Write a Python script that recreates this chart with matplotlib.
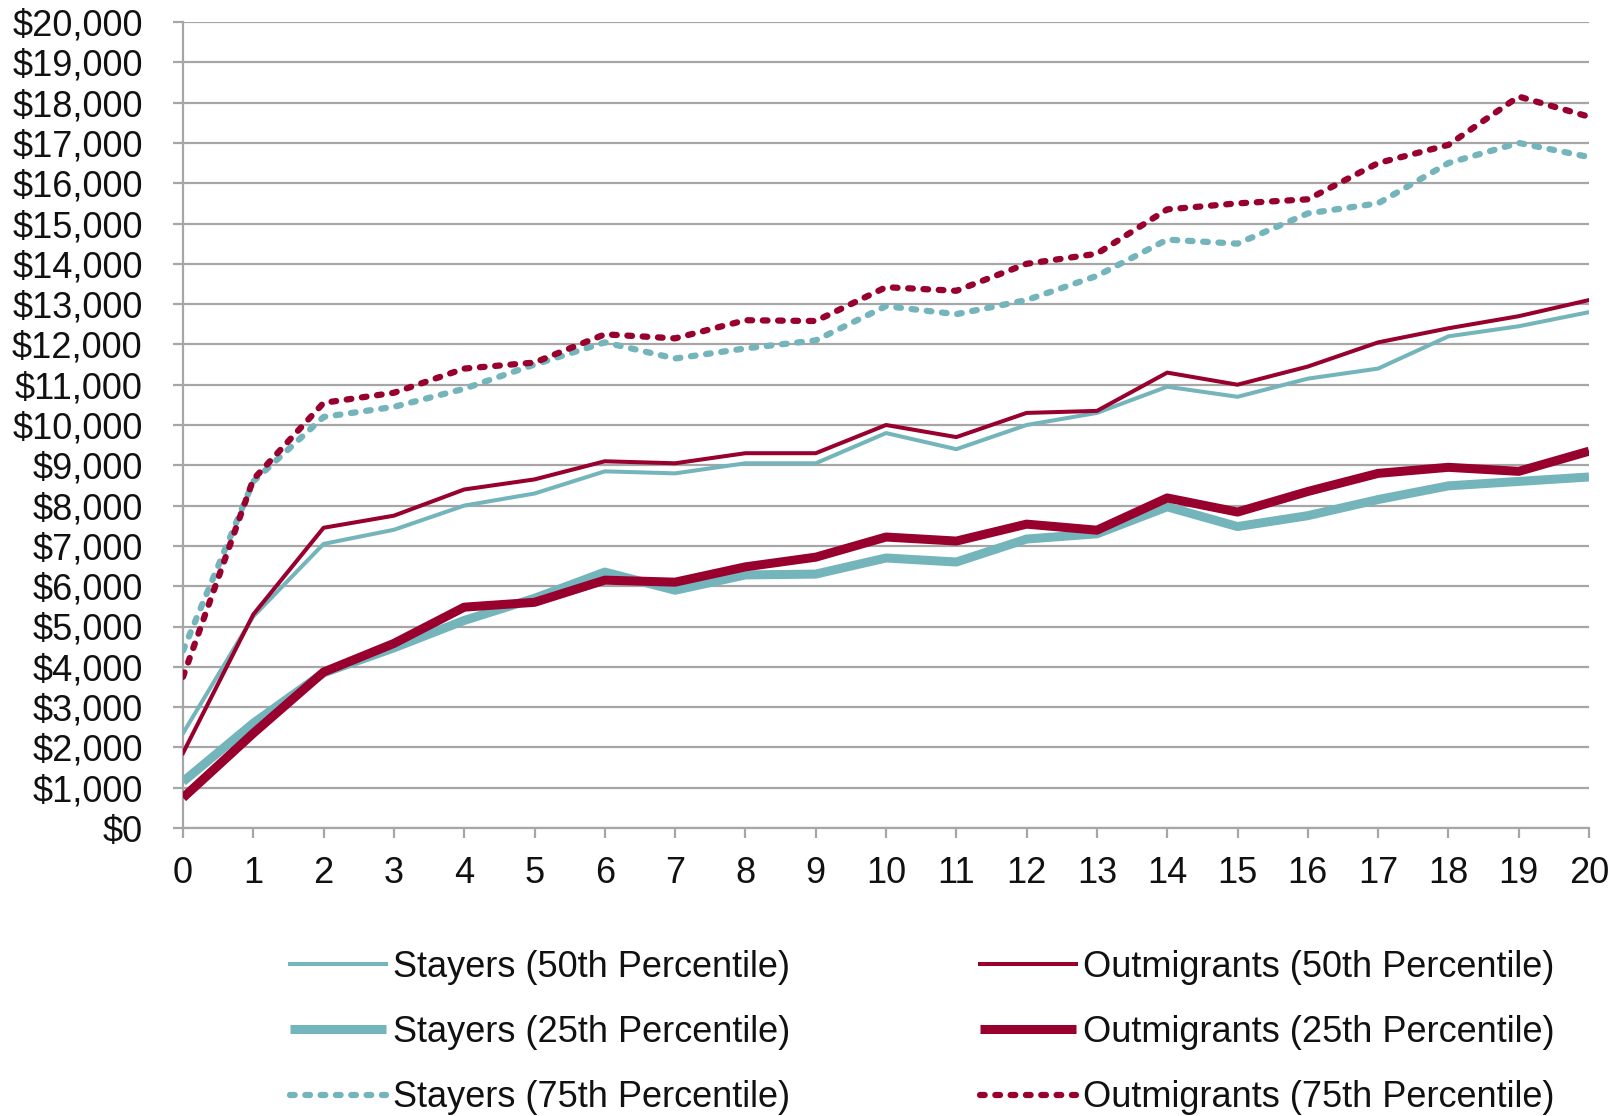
import matplotlib
matplotlib.use("Agg")
import matplotlib.pyplot as plt
from matplotlib.ticker import FuncFormatter, MultipleLocator

plt.rcParams['font.family'] = ['Liberation Sans', 'DejaVu Sans']

years = list(range(0, 21))

stayers_50 = [2350, 5250, 7050, 7400, 8000, 8300, 8850, 8800, 9050, 9050, 9800,
              9400, 10000, 10300, 10950, 10700, 11150, 11400, 12200, 12450, 12800]
outmig_50 = [1860, 5300, 7450, 7750, 8400, 8650, 9100, 9050, 9300, 9300, 10000,
             9700, 10300, 10350, 11300, 11000, 11450, 12050, 12400, 12700, 13100]
stayers_25 = [1150, 2600, 3850, 4470, 5150, 5700, 6350, 5900, 6280, 6300, 6700,
              6600, 7170, 7300, 7970, 7480, 7750, 8150, 8490, 8600, 8710]
outmig_25 = [750, 2350, 3870, 4580, 5480, 5600, 6150, 6100, 6480, 6720, 7220,
             7120, 7540, 7390, 8190, 7840, 8350, 8800, 8950, 8850, 9350]
stayers_75 = [4400, 8600, 10200, 10450, 10900, 11500, 12050, 11650, 11900, 12100, 12950,
              12750, 13100, 13700, 14600, 14500, 15250, 15500, 16500, 17000, 16650]
outmig_75 = [3750, 8650, 10550, 10800, 11400, 11550, 12250, 12150, 12600, 12580, 13420,
             13330, 14000, 14250, 15350, 15500, 15600, 16500, 16950, 18150, 17650]

labels = ["Stayers (50th Percentile)", "Stayers (25th Percentile)", "Stayers (75th Percentile)",
          "Outmigrants (50th Percentile)", "Outmigrants (25th Percentile)", "Outmigrants (75th Percentile)"]

TEAL = '#74B4BB'
RED = '#98002E'
GRID = '#A6A6A6'

fig = plt.figure(figsize=(16.16, 11.16), dpi=100)
ax = fig.add_axes([183/1616, 1-828/1116, (1589-183)/1616, (828-22)/1116])

thin = 2.9
thick = 6.5
dot = 4.5
dash = (0, (0.75, 1.7))

h = {}
h['s25'], = ax.plot(years, stayers_25, color=TEAL, lw=thick, solid_capstyle='butt', zorder=3)
h['o25'], = ax.plot(years, outmig_25, color=RED, lw=thick, solid_capstyle='butt', zorder=4)
h['s50'], = ax.plot(years, stayers_50, color=TEAL, lw=thin, zorder=5)
h['o50'], = ax.plot(years, outmig_50, color=RED, lw=thin, zorder=6)
h['s75'], = ax.plot(years, stayers_75, color=TEAL, lw=dot, linestyle=dash,
                    dash_capstyle='round', zorder=7)
h['o75'], = ax.plot(years, outmig_75, color=RED, lw=dot, linestyle=dash,
                    dash_capstyle='round', zorder=8)

ax.set_xlim(0, 20)
ax.set_ylim(0, 20000)
ax.xaxis.set_major_locator(MultipleLocator(1))
ax.yaxis.set_major_locator(MultipleLocator(1000))
ax.yaxis.set_major_formatter(FuncFormatter(lambda v, p: "${:,.0f}".format(v)))

ax.grid(axis='y', color=GRID, lw=1.6, zorder=0)
ax.set_axisbelow(True)
for s in ['top', 'right']:
    ax.spines[s].set_visible(False)
for s in ['left', 'bottom']:
    ax.spines[s].set_color(GRID)
    ax.spines[s].set_linewidth(1.6)
ax.tick_params(axis='both', direction='out', length=7, width=1.6, color=GRID,
               labelsize=26, labelcolor='#111111')
ax.tick_params(axis='y', pad=22)
ax.tick_params(axis='x', pad=13)

handles = [h['s50'], h['s25'], h['s75'], h['o50'], h['o25'], h['o75']]
leg = fig.legend(handles, labels, ncol=2, loc='center', bbox_to_anchor=(0.5707, 0.0748),
                 frameon=False, fontsize=26, handlelength=2.66, handletextpad=0.2,
                 columnspacing=5.26, labelspacing=0.84)
for t in leg.get_texts():
    t.set_color('#111111')

fig.savefig('out.png', dpi=100)
